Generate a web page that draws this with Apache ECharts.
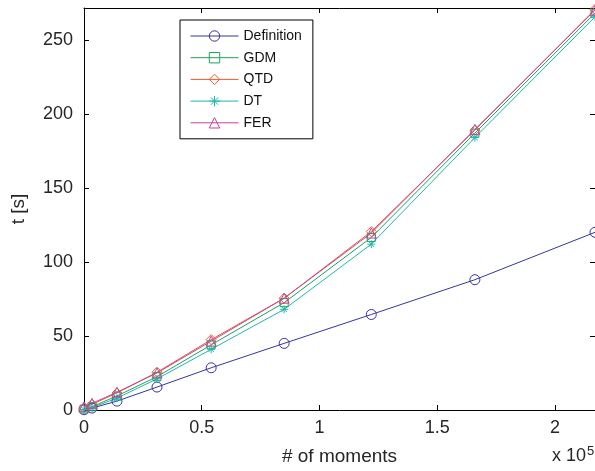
<!DOCTYPE html>
<html>
<head>
<meta charset="utf-8">
<script src="https://cdn.jsdelivr.net/npm/echarts@6/dist/echarts.min.js"></script>
<style>
  html, body { margin: 0; padding: 0; background: #fff; }
  #chart { width: 595px; height: 471px; }
</style>
</head>
<body>
<div id="chart"></div>
<script>
// Number of moments computed at each step
const moments = [0, 3400, 14000, 31000, 54000, 85000, 122000, 166000, 217000];

// Computation time [s] per method
const definitionTimes = [0.2, 1.3, 6, 15.5, 28.5, 45, 64.5, 88, 120];
const gdmTimes        = [0.6, 2.2, 9.5, 22.5, 44, 72.5, 116.5, 187, 268];
const qtdTimes        = [1.5, 3.8, 11.5, 25.5, 47.5, 75.5, 120.5, 189, 270.5];
const dtTimes         = [0.3, 1.6, 8, 21, 41, 68, 112, 184, 265.5];
const ferTimes        = [2.2, 4.5, 12, 25, 46.5, 75.5, 119.5, 189.5, 270];

const seriesNames = ['Definition', 'GDM', 'QTD', 'DT', 'FER'];

const xTickStep = 50000;
const yTickStep = 50;

const FONT = '"Liberation Sans", Arial, Helvetica, sans-serif';

const styles = {
  Definition: { color: '#35359f', symbol: 'circle', size: 10 },
  GDM: { color: '#1fa35c', symbol: 'rect', size: 8 },
  QTD: { color: '#f05a2a', symbol: 'path://M5,0L10,5L5,10L0,5Z', size: 10 },
  DT:  { color: '#1fb8ad', symbol: 'path://M5,0L5,10M0,5L10,5M1.5,1.5L8.5,8.5M1.5,8.5L8.5,1.5', size: 8 },
  FER: { color: '#c2459f', symbol: 'triangle', size: 10 }
};

const valuesByName = {
  Definition: definitionTimes,
  GDM: gdmTimes,
  QTD: qtdTimes,
  DT: dtTimes,
  FER: ferTimes
};

function pairs(values) {
  return moments.map((m, i) => [m, values[i]]);
}

const series = seriesNames.map(name => {
  const s = styles[name];
  return {
    name: name,
    type: 'line',
    data: pairs(valuesByName[name]),
    xAxisIndex: 0,
    yAxisIndex: 0,
    symbol: s.symbol,
    symbolSize: s.size,
    showAllSymbol: true,
    lineStyle: { color: s.color, width: 1 },
    itemStyle: { color: 'rgba(255,255,255,0)', borderColor: s.color, borderWidth: 1 },
    emphasis: { disabled: true },
    clip: false,
    z: 3
  };
});

const axisLineStyle = { color: '#000', width: 1 };
const tickStyle = { show: true, inside: true, length: 5, lineStyle: { color: '#000', width: 1 } };
const labelStyle = { fontSize: 18, fontFamily: FONT, color: '#262626' };
const nameStyle = { fontSize: 19, fontFamily: FONT, color: '#262626' };

const chart = echarts.init(document.getElementById('chart'), null, { renderer: 'canvas' });

chart.setOption({
  animation: false,
  backgroundColor: '#fff',
  grid: { left: 84, top: 8, width: 512, height: 402, containLabel: false },
  xAxis: [
    {
      type: 'value', position: 'bottom',
      min: 0, max: moments[moments.length - 1], interval: xTickStep,
      axisLine: { onZero: false, lineStyle: axisLineStyle },
      axisTick: tickStyle,
      splitLine: { show: false },
      axisLabel: Object.assign({
        margin: 9, showMaxLabel: false,
        formatter: v => String(v / 100000)
      }, labelStyle),
      name: '# of moments', nameLocation: 'middle', nameGap: 37,
      nameTextStyle: nameStyle
    },
    {
      type: 'value', position: 'top',
      min: 0, max: moments[moments.length - 1], interval: xTickStep,
      axisLine: { onZero: false, lineStyle: axisLineStyle },
      axisTick: tickStyle,
      splitLine: { show: false },
      axisLabel: { show: false }
    }
  ],
  yAxis: [
    {
      type: 'value', position: 'left',
      min: 0, max: 271.5, interval: yTickStep,
      axisLine: { show: true, onZero: false, lineStyle: axisLineStyle },
      axisTick: tickStyle,
      splitLine: { show: false },
      axisLabel: Object.assign({ margin: 11, showMaxLabel: false }, labelStyle),
      name: 't [s]', nameLocation: 'middle', nameGap: 56, nameRotate: 90,
      nameTextStyle: nameStyle
    },
    {
      type: 'value', position: 'right',
      min: 0, max: 271.5, interval: yTickStep,
      axisLine: { show: true, onZero: false, lineStyle: axisLineStyle },
      axisTick: tickStyle,
      splitLine: { show: false },
      axisLabel: { show: false }
    }
  ],
  legend: {
    orient: 'vertical',
    left: 180, top: 20,
    backgroundColor: '#fff',
    borderColor: '#000', borderWidth: 1,
    padding: [9, 11, 9, 10],
    itemWidth: 48, itemHeight: 13, itemGap: 7.7,
    lineStyle: { width: 1 },
    itemStyle: { borderWidth: 1 },
    textStyle: { fontSize: 14, fontFamily: FONT, color: '#111' },
    data: seriesNames
  },
  graphic: [
    {
      type: 'text', left: 552, top: 447, silent: true,
      style: { text: 'x 10', fontSize: 18, fontFamily: FONT, fill: '#262626' }
    },
    {
      type: 'text', left: 587, top: 445, silent: true,
      style: { text: '5', fontSize: 13, fontFamily: FONT, fill: '#262626' }
    }
  ],
  series: series
});
</script>
</body>
</html>
